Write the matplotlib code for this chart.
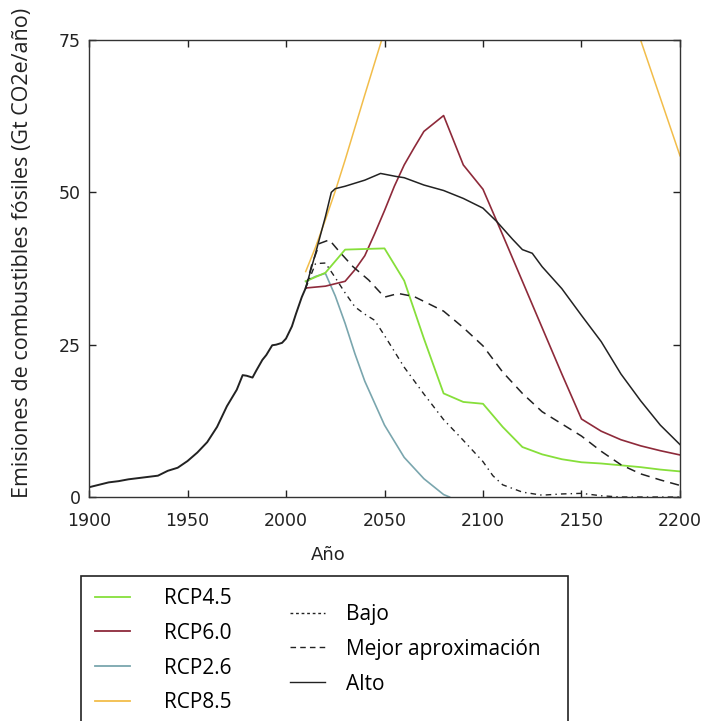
import matplotlib
matplotlib.use("Agg")
import matplotlib.pyplot as plt
from matplotlib.lines import Line2D
from matplotlib.patches import Rectangle

# historical emissions (Gt CO2e/yr)
hist_years = [1900, 1905, 1910, 1915, 1920, 1925, 1930, 1935, 1940, 1945, 1950,
              1955, 1960, 1965, 1970, 1975, 1978, 1980, 1983, 1985, 1988, 1990,
              1993, 1995, 1998, 2000, 2003, 2005, 2008, 2010]
hist_vals = [1.6, 2.0, 2.4, 2.6, 2.9, 3.1, 3.3, 3.5, 4.3, 4.8, 5.9,
             7.3, 9.0, 11.5, 14.9, 17.6, 20.0, 19.9, 19.6, 20.8, 22.5, 23.3,
             24.9, 25.0, 25.3, 26.0, 28.0, 30.0, 32.8, 34.3]

# RCP scenarios
rcp45_years = [2010, 2020, 2030, 2040, 2050, 2060, 2070, 2080, 2090, 2100, 2110,
               2120, 2130, 2140, 2150, 2160, 2170, 2180, 2190, 2200]
rcp45_vals = [35.4, 36.8, 40.6, 40.7, 40.8, 35.5, 26.0, 17.0, 15.6, 15.3, 11.5,
              8.2, 7.0, 6.2, 5.7, 5.5, 5.2, 4.9, 4.5, 4.2]

rcp60_years = [2010, 2020, 2030, 2035, 2040, 2045, 2050, 2055, 2060, 2065, 2070,
               2080, 2090, 2100, 2110, 2120, 2130, 2140, 2150, 2160, 2170, 2180,
               2190, 2200]
rcp60_vals = [34.3, 34.6, 35.4, 37.3, 39.6, 43.2, 47.0, 51.0, 54.5, 57.3, 60.0,
              62.6, 54.5, 50.5, 43.0, 35.4, 27.8, 20.2, 12.8, 10.8, 9.4, 8.4,
              7.6, 6.9]

rcp26_years = [2010, 2015, 2020, 2025, 2030, 2035, 2040, 2050, 2060, 2070, 2080, 2083]
rcp26_vals = [35.4, 36.2, 36.7, 33.0, 28.5, 23.5, 19.0, 11.8, 6.5, 3.0, 0.4, 0.0]

rcp85_years = [2010, 2015, 2020, 2025, 2030, 2040, 2050, 2070, 2100, 2130, 2160,
               2170, 2180, 2190, 2200]
rcp85_vals = [37.0, 41.0, 45.5, 50.2, 55.3, 66.0, 76.5, 90.0, 104.0, 100.0, 90.0,
              85.0, 75.0, 65.5, 56.0]

# uncertainty range
bajo_years = [2010, 2015, 2020, 2025, 2030, 2035, 2040, 2045, 2050, 2060, 2070,
              2080, 2090, 2100, 2105, 2110, 2120, 2130, 2140, 2150, 2160, 2170, 2200]
bajo_vals = [34.3, 38.3, 38.4, 36.0, 33.5, 31.2, 30.0, 29.0, 26.5, 21.3, 16.9,
             12.7, 9.3, 5.8, 3.5, 2.0, 0.8, 0.3, 0.5, 0.6, 0.2, 0.0, 0.0]

mejor_years = [2010, 2013, 2017, 2022, 2027, 2034, 2042, 2050, 2057, 2065, 2080,
               2090, 2100, 2110, 2120, 2130, 2140, 2150, 2160, 2170, 2180, 2190, 2200]
mejor_vals = [34.3, 38.0, 41.6, 42.2, 40.3, 37.8, 35.6, 32.8, 33.4, 32.9, 30.5,
              27.8, 24.8, 20.5, 17.0, 14.0, 12.0, 10.0, 7.5, 5.3, 3.8, 2.8, 1.9]

alto_years = [2010, 2015, 2020, 2023, 2025, 2030, 2040, 2048, 2056, 2060, 2070,
              2080, 2090, 2100, 2107, 2115, 2120, 2125, 2130, 2140, 2150, 2160,
              2170, 2180, 2190, 2200]
alto_vals = [34.3, 40.0, 46.0, 50.0, 50.6, 51.0, 52.0, 53.1, 52.6, 52.4, 51.2,
             50.3, 49.0, 47.4, 45.2, 42.3, 40.6, 40.0, 37.8, 34.2, 29.8, 25.5,
             20.2, 15.8, 11.8, 8.6]

c45 = "#86df3a"
c60 = "#8e2a3a"
c26 = "#7aa6ae"
c85 = "#f2bd4a"
cblk = "#222222"

fig = plt.figure(figsize=(7.07, 7.21), dpi=100)
ax = fig.add_axes([89 / 707, 1 - 497 / 721, 591 / 707, 457 / 721])

ax.plot(rcp85_years, rcp85_vals, color=c85, lw=1.1)
ax.plot(rcp26_years, rcp26_vals, color=c26, lw=1.2)
ax.plot(rcp60_years, rcp60_vals, color=c60, lw=1.2)
ax.plot(rcp45_years, rcp45_vals, color=c45, lw=1.3)
ax.plot(bajo_years, bajo_vals, color=cblk, lw=1.0, ls=(0, (4, 3, 1, 3)))
ax.plot(mejor_years, mejor_vals, color=cblk, lw=1.1, ls=(0, (6, 4)))
ax.plot(alto_years, alto_vals, color=cblk, lw=1.1)
ax.plot(hist_years, hist_vals, color=cblk, lw=1.4)

ax.set_xlim(1900, 2200)
ax.set_ylim(0, 75)
ax.set_xticks([1900, 1950, 2000, 2050, 2100, 2150, 2200])
ax.set_yticks([0, 25, 50, 75])
ax.tick_params(direction="in", top=True, right=True, length=5, width=1,
               labelsize=12.5, pad=6, colors="#222222")
ax.tick_params(axis="x", pad=11)
for s in ax.spines.values():
    s.set_color("#333333")
    s.set_linewidth(1)

ax.set_xlabel("Año", fontsize=13, color="#222222", va="center")
ax.xaxis.set_label_coords(0.404, -0.127)
ax.set_ylabel("Emisiones de combustibles fósiles (Gt CO2e/año)", fontsize=15.5,
              family="Open Sans", color="#222222", va="center", ha="center")
ax.yaxis.set_label_coords(-0.112, 0.535)

# legend
rcp_handles = [Line2D([], [], color=c45, lw=1.3),
               Line2D([], [], color=c60, lw=1.3),
               Line2D([], [], color=c26, lw=1.3),
               Line2D([], [], color=c85, lw=1.3)]
rcp_labels = ["RCP4.5", "RCP6.0", "RCP2.6", "RCP8.5"]
rng_handles = [Line2D([], [], color=cblk, lw=1.0, ls=(0, (2, 2))),
               Line2D([], [], color=cblk, lw=1.0, ls=(0, (4, 3))),
               Line2D([], [], color=cblk, lw=1.0)]
rng_labels = ["Bajo", "Mejor aproximación", "Alto"]

leg_font = {"family": "Open Sans", "size": 15}
leg1 = fig.legend(rcp_handles, rcp_labels, loc="upper left",
                  bbox_to_anchor=(95 / 707, 1 - 588 / 721), frameon=False,
                  prop=leg_font, borderpad=0, borderaxespad=0,
                  handlelength=1.7, handletextpad=1.6, labelspacing=0.66)
leg2 = fig.legend(rng_handles, rng_labels, loc="upper left",
                  bbox_to_anchor=(290 / 707, 1 - 604 / 721), frameon=False,
                  prop=leg_font, borderpad=0, borderaxespad=0,
                  handlelength=1.7, handletextpad=1.0, labelspacing=0.66)

fig.patches.append(Rectangle((81 / 707, -0.05), (568 - 81) / 707, 0.05 + 1 - 576 / 721,
                             transform=fig.transFigure, fill=False,
                             edgecolor="#222222", lw=1.2))

fig.savefig("out.png", dpi=100)
